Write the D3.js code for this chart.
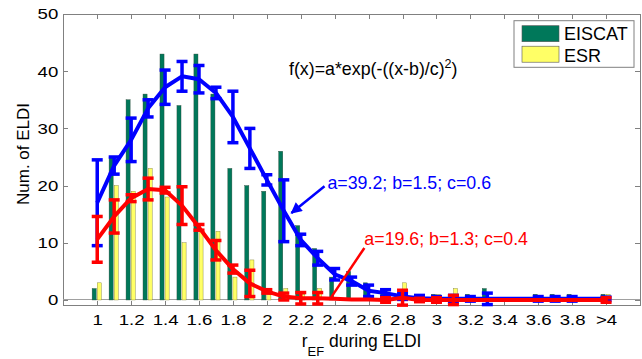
<!DOCTYPE html>
<html>
<head>
<meta charset="utf-8">
<script src="https://cdn.jsdelivr.net/npm/d3@7"></script>
<style>
  body { margin: 0; background: #fff; }
  svg text { font-family: "Liberation Sans", Arial, sans-serif; fill: #000; }
  .axis path, .axis line { stroke: #808080; shape-rendering: crispEdges; }
</style>
</head>
<body>
<svg id="chart" width="642" height="359"></svg>
<script>
// bins of r_EF (last bin is ">4")
var bins = [1.0, 1.1, 1.2, 1.3, 1.4, 1.5, 1.6, 1.7, 1.8, 1.9,
            2.0, 2.1, 2.2, 2.3, 2.4, 2.5, 2.6, 2.7, 2.8, 2.9,
            3.0, 3.1, 3.2, 3.3, 3.4, 3.5, 3.6, 3.7, 3.8, 3.9, 4.0];
var tickVals = [1.0, 1.2, 1.4, 1.6, 1.8, 2.0, 2.2, 2.4, 2.6, 2.8, 3.0, 3.2, 3.4, 3.6, 3.8, 4.0];
var tickLabels = ["1", "1.2", "1.4", "1.6", "1.8", "2", "2.2", "2.4", "2.6", "2.8", "3", "3.2", "3.4", "3.6", "3.8", ">4"];
var yTicks = [0, 10, 20, 30, 40, 50];

var eiscat = [2, 25, 35, 36, 43, 34, 43, 36, 23, 20,
              19, 26, 13, 9, 4, 5, 3, 2, 1, 1,
              1, 0, 1, 2, 0, 0, 1, 1, 1, 0, 1];
var esr = [3, 20, 19, 23, 18, 10, 12, 12, 4, 7,
           1, 2, 1, 2, 0, 0, 0, 0, 3, 0,
           1, 2, 0, 0, 0, 0, 0, 0, 0, 0, 1];

// mean curves with error bars (null = no bar drawn)
var eiscatMean = [17, 23.5, 28, 33.5, 37.2, 39.1, 38.6, 36.2, 32, 26.5,
                  21, 15.6, 10.5, 7.3, 4.5, 3.3, 1.6, 1.2, 0.6, 0.3,
                  0.2, 0.2, 0.2, 0.2, 0.2, 0.2, 0.2, 0.2, 0.2, 0.2, 0.2];
var eiscatErr = [7.5, 1.5, 3.8, 1.5, 3, 2.6, 2.4, 1, 4.5, 3.5,
                 0.9, 5.4, 1, 1.2, 1, 0.7, 1, 0.6, 0.5, 0.5,
                 0.4, 0.6, 0.4, 1, null, null, 0.4, 0.4, 0.4, null, 0.3];
var esrMean = [10.6, 14.6, 17.8, 19.4, 19.2, 16.5, 12.7, 8.7, 5.4, 2.9,
               1.5, 0.6, 0.3, 0.3, 0.2, 0.1, 0.1, 0, 0.4, 0,
               0, 0, 0, 0, 0, 0, 0, 0, 0, 0, 0];
var esrErr = [4, 2.9, 0.6, 1.9, 0.5, 3.3, 0.5, 1.7, 0.7, 2.3,
              0.3, 0.6, 1, 1, null, null, null, 0.4, 1.3, 0.3,
              0.4, 0.8, null, null, null, null, null, null, null, null, 0.4];

var formula = "f(x)=a*exp(-((x-b)/c)";
var fitEiscat = "a=39.2; b=1.5; c=0.6";
var fitEsr = "a=19.6; b=1.3; c=0.4";

var green = "#00785a", yellow = "#ffff66", blue = "#0000ff", red = "#ff0000";

var svg = d3.select("#chart");
var plotLeft = 63.3, plotRight = 640, plotTop = 14, plotBottom = 305.7;

var x = d3.scaleLinear().domain([0.8, 4.2]).range([plotLeft, plotRight]);
var y = d3.scaleLinear().domain([-1, 50]).range([plotBottom, plotTop]);
var step = x(1.1) - x(1.0);

// frame
svg.append("rect")
  .attr("x", plotLeft).attr("y", plotTop)
  .attr("width", plotRight - plotLeft).attr("height", plotBottom - plotTop)
  .attr("fill", "#fff").attr("stroke", "#808080").attr("shape-rendering", "crispEdges");

// zero baseline
svg.append("line")
  .attr("x1", plotLeft).attr("x2", plotRight).attr("y1", y(0)).attr("y2", y(0))
  .attr("stroke", "#a0a0a0").attr("shape-rendering", "crispEdges");

// bars
var bars = svg.append("g").classed("bars", true);
bars.selectAll("rect.eiscat").data(bins).enter().append("rect")
  .attr("x", function(d) { return x(d) - step * 0.3; })
  .attr("width", step * 0.24)
  .attr("y", function(d, i) { return y(eiscat[i]); })
  .attr("height", function(d, i) { return y(0) - y(eiscat[i]); })
  .attr("fill", green).attr("stroke", "#2a4a3a").attr("stroke-width", 0.4);
bars.selectAll("rect.esr").data(bins).enter().append("rect")
  .attr("x", function(d) { return x(d); })
  .attr("width", step * 0.24)
  .attr("y", function(d, i) { return y(esr[i]); })
  .attr("height", function(d, i) { return y(0) - y(esr[i]); })
  .attr("fill", yellow).attr("stroke", "#7a7a30").attr("stroke-width", 0.4);

// axes (tick labels are a bit wide in the original, hence the x-stretch)
var xAxis = d3.axisBottom(x).tickValues(tickVals)
  .tickFormat(function(d, i) { return tickLabels[i]; })
  .tickSizeInner(-5).tickSizeOuter(0).tickPadding(8);
var gx = svg.append("g").attr("class", "axis").attr("transform", "translate(0," + plotBottom + ")").call(xAxis);
gx.select(".domain").remove();
gx.selectAll("text").attr("font-size", 15.5).attr("transform", "scale(1.2,1)");

var gxTop = svg.append("g").attr("class", "axis").attr("transform", "translate(0," + plotTop + ")")
  .call(d3.axisTop(x).tickValues(tickVals).tickFormat("").tickSizeInner(-5).tickSizeOuter(0));
gxTop.select(".domain").remove();

var gy = svg.append("g").attr("class", "axis").attr("transform", "translate(" + plotLeft + ",0)")
  .call(d3.axisLeft(y).tickValues(yTicks).tickSizeInner(-5).tickSizeOuter(0).tickPadding(4.2));
gy.select(".domain").remove();
gy.selectAll("text").attr("font-size", 15.5).attr("transform", "scale(1.2,1)");

var gyR = svg.append("g").attr("class", "axis").attr("transform", "translate(" + plotRight + ",0)")
  .call(d3.axisRight(y).tickValues(yTicks).tickFormat("").tickSizeInner(-5).tickSizeOuter(0));
gyR.select(".domain").remove();

// mean curves with error bars
function drawSeries(mean, err, color) {
  var g = svg.append("g");
  var line = d3.line()
    .x(function(d) { return x(d); })
    .y(function(d, i) { return y(mean[i]); });
  g.append("path").datum(bins).attr("d", line)
    .attr("fill", "none").attr("stroke", color).attr("stroke-width", 4)
    .attr("stroke-linejoin", "round");
  var pts = bins.map(function(b, i) { return { b: b, m: mean[i], e: err[i] }; })
    .filter(function(p) { return p.e !== null; });
  var cap = 5.5;
  var eb = g.selectAll("g.eb").data(pts).enter().append("g")
    .attr("stroke", color).attr("stroke-width", 3.5);
  eb.append("line")
    .attr("x1", function(p) { return x(p.b); }).attr("x2", function(p) { return x(p.b); })
    .attr("y1", function(p) { return y(p.m + p.e); }).attr("y2", function(p) { return y(p.m - p.e); });
  eb.append("line")
    .attr("x1", function(p) { return x(p.b) - cap; }).attr("x2", function(p) { return x(p.b) + cap; })
    .attr("y1", function(p) { return y(p.m + p.e); }).attr("y2", function(p) { return y(p.m + p.e); });
  eb.append("line")
    .attr("x1", function(p) { return x(p.b) - cap; }).attr("x2", function(p) { return x(p.b) + cap; })
    .attr("y1", function(p) { return y(p.m - p.e); }).attr("y2", function(p) { return y(p.m - p.e); });
}
drawSeries(eiscatMean, eiscatErr, blue);
drawSeries(esrMean, esrErr, red);

// annotations
svg.append("defs").append("marker")
  .attr("id", "arrow").attr("viewBox", "0 0 10 10").attr("refX", 9).attr("refY", 5)
  .attr("markerWidth", 5).attr("markerHeight", 4.5).attr("orient", "auto")
  .append("path").attr("d", "M0,0 L10,5 L0,10 z").attr("fill", blue);

svg.append("line")
  .attr("x1", x(2.34)).attr("y1", y(19.9)).attr("x2", x(2.145)).attr("y2", y(15.2))
  .attr("stroke", blue).attr("stroke-width", 2.5).attr("marker-end", "url(#arrow)");
svg.append("text").attr("x", x(2.357)).attr("y", y(20.5) + 6)
  .attr("font-size", 17.8).style("fill", blue).text(fitEiscat);

svg.append("line")
  .attr("x1", x(2.38)).attr("y1", y(0.5)).attr("x2", x(2.575)).attr("y2", y(9.1))
  .attr("stroke", red).attr("stroke-width", 2.5);
svg.append("text").attr("x", x(2.575)).attr("y", y(10.7) + 6)
  .attr("font-size", 17.8).style("fill", red).text(fitEsr);

var ft = svg.append("text").attr("x", 289).attr("y", 75).attr("font-size", 17.8);
ft.append("tspan").text(formula);
ft.append("tspan").attr("dy", -7).attr("font-size", 12.5).text("2");
ft.append("tspan").attr("dy", 7).text(")");

// legend
var lg = svg.append("g").attr("transform", "translate(514,20.7)");
lg.append("rect").attr("width", 120).attr("height", 46.6)
  .attr("fill", "#fff").attr("stroke", "#808080");
var legendItems = [{ name: "EISCAT", color: green }, { name: "ESR", color: yellow }];
legendItems.forEach(function(it, i) {
  lg.append("rect").attr("x", 8).attr("y", 5 + i * 20.5).attr("width", 37).attr("height", 16)
    .attr("fill", it.color).attr("stroke", "#555").attr("stroke-width", 0.6);
  lg.append("text").attr("x", 50).attr("y", 19 + i * 22).attr("font-size", 18).text(it.name);
});

// axis labels
svg.append("text").attr("transform", "translate(29,154) rotate(-90)")
  .attr("text-anchor", "middle").attr("font-size", 17).text("Num. of ELDI");

var xl = svg.append("text").attr("x", 301.7).attr("y", 346.7).attr("font-size", 17.5);
xl.append("tspan").text("r");
xl.append("tspan").attr("dy", 9).attr("font-size", 13).text("EF");
xl.append("tspan").attr("dy", -9).text(" during ELDI");
</script>
</body>
</html>
